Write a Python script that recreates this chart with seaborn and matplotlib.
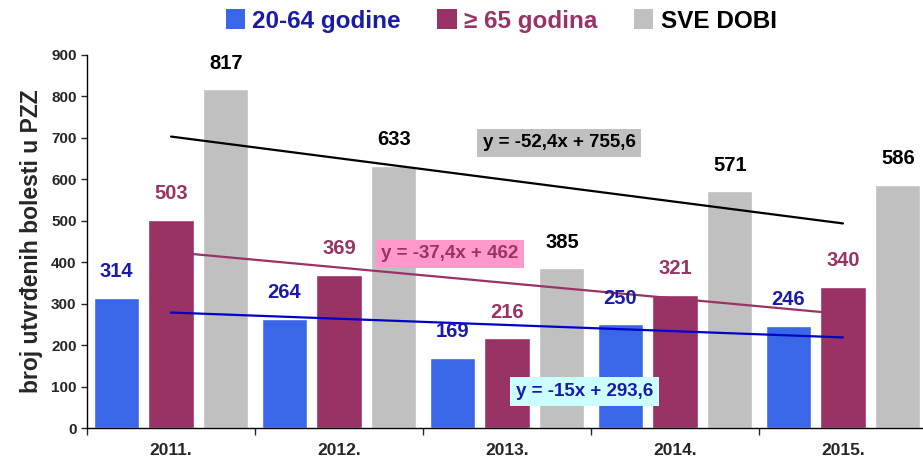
import pandas as pd
import seaborn as sns
import matplotlib.pyplot as plt
from matplotlib.patches import Patch
import numpy as np

# Data
years = ["2011.", "2012.", "2013.", "2014.", "2015."]
groups = ["20-64 godine", "≥ 65 godina", "SVE DOBI"]
adults = [314, 264, 169, 250, 246]
elderly = [503, 369, 216, 321, 340]
all_ages = [817, 633, 385, 571, 586]

# linear trend coefficients shown on the chart (x = 1..5)
trend_slopes = [-15.0, -37.4, -52.4]
trend_intercepts = [293.6, 462.0, 755.6]
trend_texts = ["y = -15x + 293,6", "y = -37,4x + 462", "y = -52,4x + 755,6"]

bar_colors = ["#3a67e8", "#993366", "#c0c0c0"]
label_colors = ["#1a1aaa", "#993366", "#000000"]
line_colors = ["#0000cc", "#993366", "#000000"]
box_colors = ["#ccffff", "#ff99cc", "#c0c0c0"]

df = pd.DataFrame({
    "year": years * 3,
    "group": [groups[0]] * 5 + [groups[1]] * 5 + [groups[2]] * 5,
    "value": adults + elderly + all_ages,
})

sns.set_style("white")
plt.rcParams['font.family'] = ['Liberation Sans', 'DejaVu Sans']

fig = plt.figure(figsize=(9.23, 4.68), dpi=100)
ax = fig.add_axes([87 / 923, 40 / 468, 840 / 923, 373 / 468])

sns.barplot(data=df, x="year", y="value", hue="group", palette=bar_colors,
            width=0.98, gap=0.18, saturation=1, legend=False, ax=ax)

# value labels above bars
for cont, col in zip(ax.containers, label_colors):
    ax.bar_label(cont, padding=12, fontsize=14.5, fontweight="bold", color=col)

# trend lines from category centre 1 to 5
xs = np.arange(1, 6)
for m, b, col in zip(trend_slopes, trend_intercepts, line_colors):
    ax.plot(xs - 1, m * xs + b, color=col, lw=1.6)

# equation boxes
eq_pos = [(2.46, 88), (1.66, 420), (2.31, 688)]
for (x, y), txt, tcol, bcol in zip(eq_pos, trend_texts, ["#1a1aaa", "#993366", "#000000"], box_colors):
    ax.text(x, y, txt, ha="center", va="center", fontsize=13.5, fontweight="bold",
            color=tcol, bbox=dict(boxstyle="square,pad=0.3", fc=bcol, ec="none"))

ax.set_ylim(0, 900)
ax.set_xlim(-0.5, 4.5)
ax.set_yticks(range(0, 901, 100))
ax.set_xlabel("")
ax.set_ylabel("broj utvrđenih bolesti u PZZ", fontsize=16.5, fontweight="bold", labelpad=6)
ax.tick_params(axis="y", labelsize=11, length=4, width=1, direction="out", left=True)
ax.tick_params(axis="x", labelsize=12.5, length=0, pad=11)
for lab in ax.get_yticklabels() + ax.get_xticklabels():
    lab.set_fontweight("bold")
ax.set_xticks(np.arange(-0.5, 5, 1), minor=True)
ax.tick_params(axis="x", which="minor", length=5, width=1, direction="out", bottom=True)

sns.despine(ax=ax, top=True, right=True)
for s in ["left", "bottom"]:
    ax.spines[s].set_color("black")
    ax.spines[s].set_linewidth(1)

# legend on top with coloured text
handles = [Patch(facecolor=c, edgecolor="none") for c in bar_colors]
leg = fig.legend(handles, groups, loc="center", bbox_to_anchor=(0.543, 0.955), ncol=3,
                 frameon=False, handlelength=0.8, handleheight=0.9,
                 handletextpad=0.3, columnspacing=1.5, prop={"weight": "bold", "size": 17.5})
for t, c in zip(leg.get_texts(), ["#1a1aaa", "#993366", "#000000"]):
    t.set_color(c)

plt.savefig("out.png", dpi=100)
plt.close()
